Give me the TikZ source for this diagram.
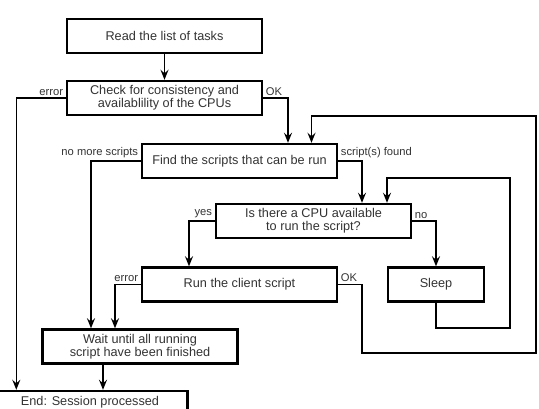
\documentclass[tikz,border=0pt]{standalone}
\usepackage{fontspec}
\setmainfont{Liberation Sans}
\usetikzlibrary{arrows.meta}

\begin{document}
\begin{tikzpicture}[x=1pt,y=-1pt,
   box/.style={draw, line width=2.4pt, minimum width=195pt, minimum height=34pt,
      align=center, inner sep=2pt, text=black!80, font=\fontsize{12.7}{13}\selectfont},
   lbl/.style={font=\fontsize{11.2}{12}\selectfont, text=black!80, inner sep=2pt},
   flow/.style={line width=1.5pt, -{Stealth[length=10pt,width=8pt,inset=3.5pt]}}]
   \useasboundingbox (0,0) rectangle (539,409);
   \clip (0,0) rectangle (539,409);

   % boxes
   \node[box] (read) at (164.5,36) {Read the list of tasks};
   \node[box] (check) at (164.5,98) {Check for consistency and\\availablility of the CPUs};
   \node[box] (find) at (239.5,161) {Find the scripts that can be run};
   \node[box] (cpu) at (313.5,221) {Is there a CPU available\\to run the script?};
   \node[box] (run) at (239.5,284.5) {Run the client script};
   \node[box, minimum width=96pt] (sleep) at (436,284.5) {Sleep};
   \node[box] (wait) at (140,346.5) {Wait until all running\\script have been finished};
   \node[box, minimum height=23pt] (end) at (90,402.5) {End: Session processed};

   \coordinate (okturn) at (362,353);
   \coordinate (okback) at (536,116);
   \coordinate (sleepturn) at (510,328);

   % connectors
   \draw[flow] (read) -- (check);
   \draw[flow] (check.west) node[lbl, above left] {error} -| ([xshift=25]end.north west);
   \draw[flow] (check.east) node[lbl, above right] {OK} -| ([xshift=48.5]find.north);
   \draw[flow] (find.west) node[lbl, above left] {no more scripts} -| ([xshift=-49]wait.north);
   \draw[flow] (find.east) node[lbl, above right] {script(s) found} -| ([xshift=48.5]cpu.north);
   \draw[flow] (cpu.west) node[lbl, above left] {yes} -| ([xshift=-50.5]run.north);
   \draw[flow] (cpu.east) node[lbl, above right] {no} -| (sleep.north);
   \draw[flow] (run.west) node[lbl, above left] {error} -| ([xshift=-25]wait.north);
   \draw[flow] (run.east) node[lbl, above right] {OK} -| (okturn) -| (okback) -| ([xshift=72]find.north);
   \draw[flow] (sleep.south) |- (sleepturn) |- ([xshift=73.5,yshift=25]cpu.north) -- ([xshift=73.5]cpu.north);
   \draw[flow] ([xshift=-37]wait.south) -- ([xshift=13]end.north);
\end{tikzpicture}
\end{document}
